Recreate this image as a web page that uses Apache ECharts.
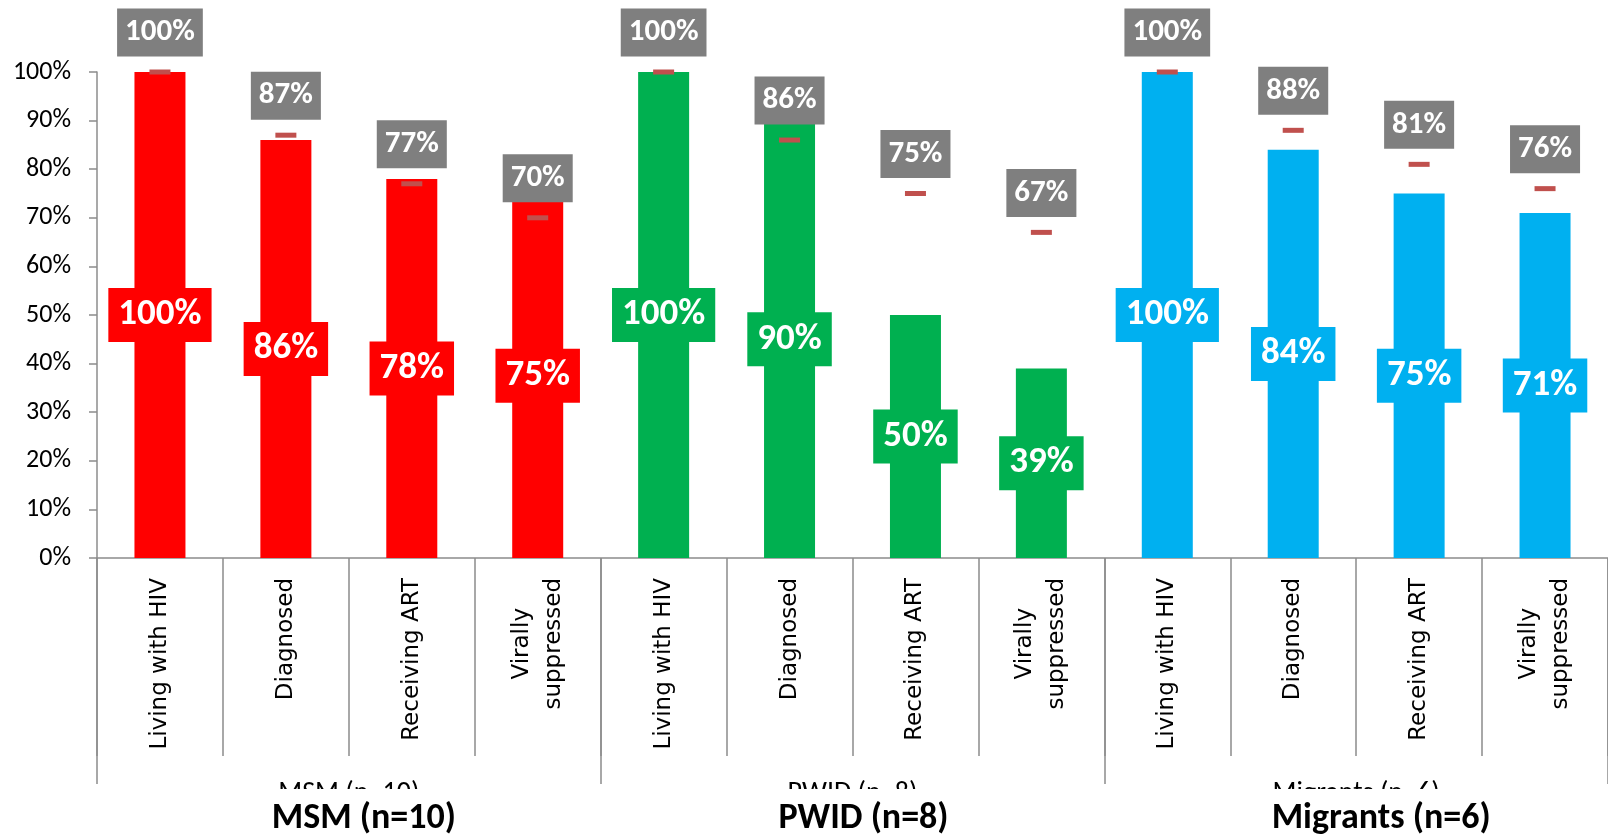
<!DOCTYPE html>
<html>
<head>
<meta charset="utf-8">
<script src="https://cdn.jsdelivr.net/npm/echarts@6/dist/echarts.min.js"></script>
<style>
  html, body { margin: 0; padding: 0; background: #fff; }
  #chart { width: 1608px; height: 837px; }
</style>
</head>
<body>
<div id="chart"></div>
<script>
// Cascade stages shown for every population group
const stages = ['Living with HIV', 'Diagnosed', 'Receiving ART', 'Virally\nsuppressed'];
const groups = ['MSM (n=10)', 'PWID (n=8)', 'Migrants (n=6)'];

// Median reported values (bars), in percent
const msmValues = [100, 86, 78, 75];
const pwidValues = [100, 90, 50, 39];
const migrantValues = [100, 84, 75, 71];

// Comparison values (red dashes with grey labels), in percent
const msmTargets = [100, 87, 77, 70];
const pwidTargets = [100, 86, 75, 67];
const migrantTargets = [100, 88, 81, 76];

// Y axis range
const yMin = 0;
const yMax = 100;
const yStep = 10;

const groupColors = ['#FF0000', '#00B050', '#00B0F0'];
const axisGrey = '#8c8c8c';

const barGroups = [msmValues, pwidValues, migrantValues];
const targetGroups = [msmTargets, pwidTargets, migrantTargets];

const categories = groups.flatMap(() => stages);

const barData = barGroups.flatMap((vals, g) => vals.map(v => ({
  value: v,
  itemStyle: { color: groupColors[g] },
  label: { backgroundColor: groupColors[g] }
})));

const targetData = targetGroups.flatMap((vals, g) =>
  vals.map((v, i) => [g * stages.length + i, v]));

// bold group titles sit a little right of their group centre
const groupTitleStyle = { fontFamily: 'Carlito, Lato', fontWeight: 'bold', fontSize: 36, color: '#000' };
const groupTitleRich = {
  g0: Object.assign({ padding: [0, 0, 0, 30] }, groupTitleStyle),
  g1: Object.assign({ padding: [0, 0, 0, 22] }, groupTitleStyle),
  g2: Object.assign({ padding: [0, 0, 0, 50] }, groupTitleStyle)
};

const chart = echarts.init(document.getElementById('chart'), null, { renderer: 'canvas' });

chart.setOption({
  animation: false,
  backgroundColor: '#fff',
  grid: { left: 97, top: 72, width: 1517, height: 487, containLabel: false },
  xAxis: [
    {
      type: 'category',
      data: categories,
      position: 'bottom',
      axisLine: { show: true, lineStyle: { color: axisGrey, width: 1.5 } },
      axisTick: { show: true, interval: 0, length: 198, lineStyle: { color: axisGrey, width: 1.5 } },
      axisLabel: {
        interval: 0,
        rotate: 90,
        margin: 20,
        color: '#000',
        fontFamily: 'DejaVu Sans',
        fontSize: 23,
        lineHeight: 32,
        formatter: v => v.split('\n').map(s => '{c|' + s + '}').join('\n'),
        rich: { c: { align: 'center', fontFamily: 'DejaVu Sans', fontSize: 23, lineHeight: 32, color: '#000' } }
      },
      splitLine: { show: false }
    },
    {
      // group divisions and bold group names
      type: 'category',
      data: groups,
      position: 'bottom',
      z: 5,
      axisLine: { show: false },
      axisTick: { show: true, interval: 0, length: 226, lineStyle: { color: axisGrey, width: 1.5 } },
      axisLabel: {
        interval: 0,
        margin: 243,
        color: '#000',
        fontFamily: 'Carlito, Lato',
        fontWeight: 'bold',
        fontSize: 36,
        formatter: (v, i) => '{g' + i + '|' + v + '}',
        rich: groupTitleRich
      },
      splitLine: { show: false }
    },
    {
      // original group labels, clipped by the plot edge
      type: 'category',
      data: groups,
      position: 'bottom',
      z: 0,
      axisLine: { show: false },
      axisTick: { show: false },
      axisLabel: {
        interval: 0,
        margin: 222,
        color: '#000',
        fontFamily: 'Carlito, Lato',
        fontSize: 28
      },
      splitLine: { show: false }
    }
  ],
  yAxis: {
    type: 'value',
    min: yMin,
    max: yMax,
    interval: yStep,
    axisLine: { show: true, lineStyle: { color: axisGrey, width: 1.5 } },
    axisTick: { show: true, length: 8, lineStyle: { color: axisGrey, width: 1.5 } },
    splitLine: { show: false },
    axisLabel: {
      formatter: '{value}%',
      margin: 26,
      color: '#000',
      fontFamily: 'Carlito, Lato',
      fontSize: 26
    }
  },
  graphic: [
    {
      type: 'rect',
      z: 1,
      left: 0,
      top: 789,
      shape: { width: 1608, height: 48 },
      style: { fill: '#fff' }
    }
  ],
  series: [
    {
      type: 'bar',
      xAxisIndex: 0,
      data: barData,
      barWidth: 51,
      z: 2,
      label: {
        show: true,
        position: 'inside',
        formatter: '{c}%',
        color: '#fff',
        fontFamily: 'Carlito, Lato',
        fontWeight: 'bold',
        fontSize: 37,
        lineHeight: 38,
        padding: [8, 10]
      }
    },
    {
      type: 'scatter',
      xAxisIndex: 0,
      data: targetData,
      symbol: 'rect',
      symbolSize: [21, 5],
      z: 3,
      itemStyle: { color: '#C0504D', opacity: 1 },
      label: {
        show: true,
        position: 'top',
        distance: 13,
        formatter: p => p.value[1] + '%',
        color: '#fff',
        backgroundColor: '#7f7f7f',
        fontFamily: 'Carlito, Lato',
        fontWeight: 'bold',
        fontSize: 31,
        lineHeight: 34,
        padding: [7, 8]
      }
    }
  ]
});
</script>
</body>
</html>
